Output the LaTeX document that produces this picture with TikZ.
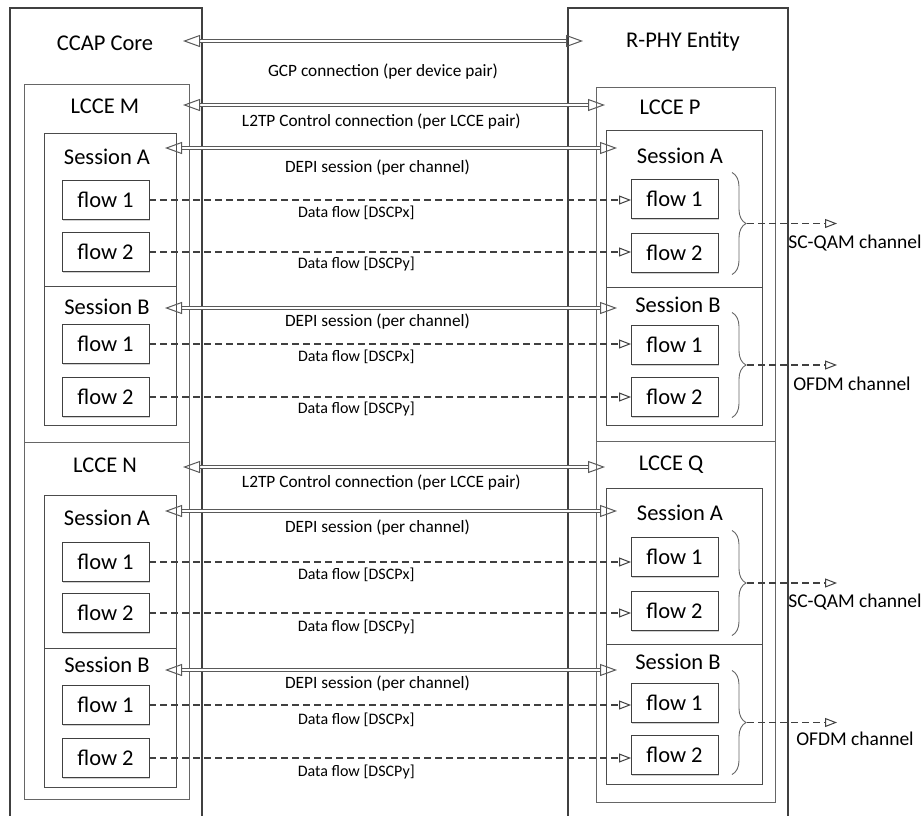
\documentclass[tikz,border=0pt]{standalone}
\usepackage{fontspec}
\setmainfont{Carlito}
\usetikzlibrary{positioning, arrows.meta, calc, shadows, decorations.pathreplacing}

\begin{document}
\begin{tikzpicture}[
    x=1pt, y=-1pt,
    every node/.style={inner sep=0pt, outer sep=0pt},
    box/.style={anchor=north west, fill=white, draw=black!70, line width=0.8pt,
        drop shadow={shadow xshift=1.2pt, shadow yshift=-1.2pt, fill=black!18, opacity=1}},
    entity/.style={box, draw=black!75, line width=1.7pt, minimum height=830pt},
    lcce/.style={box, draw=black!60, line width=0.7pt},
    sess/.style={box, minimum width=132pt},
    rsess/.style={box, minimum width=156pt},
    flowbox/.style={draw=black!75, fill=white, line width=0.8pt, minimum width=87pt, minimum height=39pt,
        font=\fontsize{22.5}{27}\selectfont,
        drop shadow={shadow xshift=1.2pt, shadow yshift=-1.2pt, fill=black!18, opacity=1}},
    ttl/.style={font=\fontsize{22.5}{27}\selectfont},
    lbl/.style={font=\fontsize{16}{19}\selectfont},
    clbl/.style={font=\fontsize{17.3}{20}\selectfont},
    chlbl/.style={font=\fontsize{19.5}{23}\selectfont},
    ctrl/.style={draw=black!65, line width=1pt, double=white, double distance=1.3pt,
        {Triangle[open, length=17pt, width=12pt, line width'=1pt]}-{Triangle[open, length=17pt, width=12pt, line width'=1pt]}},
    data/.style={draw=black!75, line width=1.3pt, dash pattern=on 7pt off 4pt,
        -{Triangle[open, length=12pt, width=9pt, line width'=1pt]}},
    brace/.style={draw=black!60, line width=0.9pt, decorate, decoration={brace, amplitude=14pt}}
]
\useasboundingbox (0,0) rectangle (922,815);

% CCAP side
\node[entity, minimum width=192pt] (core) at (10,8) {};
\node[lcce, minimum width=165pt, minimum height=358pt] (lcceM) at (24,84) {};
\node[lcce, minimum width=165pt, minimum height=357pt] (lcceN) at (24,442) {};
\node[sess, minimum height=153pt] (sMA) at (44,133) {};
\node[sess, minimum height=139pt] (sMB) at (44,286) {};
\node[sess, minimum height=153pt] (sNA) at (44,495) {};
\node[sess, minimum height=139pt] (sNB) at (44,648) {};

% R-PHY side
\node[entity, minimum width=220pt] (rphy) at (568,8) {};
\node[lcce, minimum width=179pt, minimum height=354pt] (lcceP) at (596,87) {};
\node[lcce, minimum width=179pt, minimum height=361pt] (lcceQ) at (596,441) {};
\node[rsess, minimum height=157pt] (sPA) at (606,130) {};
\node[rsess, minimum height=138pt] (sPB) at (606,287) {};
\node[rsess, minimum height=156pt] (sQA) at (606,488) {};
\node[rsess, minimum height=140pt] (sQB) at (606,644) {};

% titles
\node[ttl] (tCore) at (105,43) {CCAP Core};
\node[ttl] (tM) at (105,106) {LCCE M};
\node[ttl] (tN) at (105,465) {LCCE N};
\node[ttl] (tMA) at (107,157) {Session A};
\node[ttl] (tMB) at (107,307) {Session B};
\node[ttl] (tNA) at (107,518) {Session A};
\node[ttl] (tNB) at (107,665) {Session B};
\node[ttl] (tRphy) at (683,42) {R-PHY Entity};
\node[ttl] (tP) at (670,107) {LCCE P};
\node[ttl] (tQ) at (671,465) {LCCE Q};
\node[ttl] (tPA) at (680,156) {Session A};
\node[ttl] (tPB) at (678,305) {Session B};
\node[ttl] (tQA) at (680,513) {Session A};
\node[ttl] (tQB) at (678,662) {Session B};

% flows
\node[flowbox] (mA1) at (105.5,200) {flow 1};
\node[flowbox] (mA2) at (105.5,252) {flow 2};
\node[flowbox] (mB1) at (105.5,344) {flow 1};
\node[flowbox] (mB2) at (105.5,397) {flow 2};
\node[flowbox] (nA1) at (105.5,562) {flow 1};
\node[flowbox] (nA2) at (105.5,613) {flow 2};
\node[flowbox] (nB1) at (105.5,705) {flow 1};
\node[flowbox] (nB2) at (105.5,758) {flow 2};
\node[flowbox] (pA1) at (674.5,199) {flow 1};
\node[flowbox] (pA2) at (674.5,253) {flow 2};
\node[flowbox] (pB1) at (674.5,345) {flow 1};
\node[flowbox] (pB2) at (674.5,397) {flow 2};
\node[flowbox] (qA1) at (674.5,557) {flow 1};
\node[flowbox] (qA2) at (674.5,611) {flow 2};
\node[flowbox] (qB1) at (674.5,703) {flow 1};
\node[flowbox] (qB2) at (674.5,755) {flow 2};

% control connection ends
\coordinate (gcpL) at (183,41);  \coordinate (gcpR) at (583,41);
\coordinate (l2M) at (183,105);  \coordinate (l2P) at (605,105);
\coordinate (dMA) at (165,148);  \coordinate (dPA) at (617,148);
\coordinate (dMB) at (165,308);  \coordinate (dPB) at (617,308);
\coordinate (l2N) at (183,467);  \coordinate (l2Q) at (605,467);
\coordinate (dNA) at (165,511);  \coordinate (dQA) at (617,511);
\coordinate (dNB) at (165,670);  \coordinate (dQB) at (617,670);

\draw[ctrl] (gcpL) -- node[clbl, yshift=-31pt] (cGcp) {GCP connection (per device pair)} (gcpR);
\draw[ctrl] (l2M) -- node[clbl, pos=0.47, yshift=-17pt] (cMP) {L2TP Control connection (per LCCE pair)} (l2P);
\draw[ctrl] (dMA) -- node[clbl, pos=0.47, yshift=-20pt] (cMA) {DEPI session (per channel)} (dPA);
\draw[ctrl] (dMB) -- node[clbl, pos=0.47, yshift=-14pt] (cMB) {DEPI session (per channel)} (dPB);
\draw[ctrl] (l2N) -- node[clbl, pos=0.47, yshift=-16pt] (cNQ) {L2TP Control connection (per LCCE pair)} (l2Q);
\draw[ctrl] (dNA) -- node[clbl, pos=0.47, yshift=-17pt] (cNA) {DEPI session (per channel)} (dQA);
\draw[ctrl] (dNB) -- node[clbl, pos=0.47, yshift=-14pt] (cNB) {DEPI session (per channel)} (dQB);

% data flows
\draw[data] (mA1.east) -- node[lbl, pos=0.43, yshift=-13pt] (fMA1) {Data flow [DSCPx]} (mA1.east -| pA1.west);
\draw[data] (mA2.east) -- node[lbl, pos=0.43, yshift=-12pt] (fMA2) {Data flow [DSCPy]} (mA2.east -| pA2.west);
\draw[data] (mB1.east) -- node[lbl, pos=0.43, yshift=-13pt] (fMB1) {Data flow [DSCPx]} (mB1.east -| pB1.west);
\draw[data] (mB2.east) -- node[lbl, pos=0.43, yshift=-12pt] (fMB2) {Data flow [DSCPy]} (mB2.east -| pB2.west);
\draw[data] (nA1.east) -- node[lbl, pos=0.43, yshift=-13pt] (fNA1) {Data flow [DSCPx]} (nA1.east -| qA1.west);
\draw[data] (nA2.east) -- node[lbl, pos=0.43, yshift=-14pt] (fNA2) {Data flow [DSCPy]} (nA2.east -| qA2.west);
\draw[data] (nB1.east) -- node[lbl, pos=0.43, yshift=-15pt] (fNB1) {Data flow [DSCPx]} (nB1.east -| qB1.west);
\draw[data] (nB2.east) -- node[lbl, pos=0.43, yshift=-14pt] (fNB2) {Data flow [DSCPy]} (nB2.east -| qB2.west);

% channels
\draw[brace] ($(pA1.north east)+(14,-7)$) -- coordinate[midway, xshift=15pt] (bPA) ($(pA2.south east)+(14,2)$);
\draw[brace] ($(pB1.north east)+(14,-13)$) -- coordinate[midway, xshift=15pt] (bPB) ($(pB2.south east)+(14,1)$);
\draw[brace] ($(qA1.north east)+(14,-7)$) -- coordinate[midway, xshift=15pt] (bQA) ($(qA2.south east)+(14,5)$);
\draw[brace] ($(qB1.north east)+(14,-13)$) -- coordinate[midway, xshift=15pt] (bQB) ($(qB2.south east)+(14,0)$);
\draw[data] (bPA) -- ++(90,0) coordinate (oPA);
\draw[data] (bPB) -- ++(90,0) coordinate (oPB);
\draw[data] (bQA) -- ++(90,0) coordinate (oQA);
\draw[data] (bQB) -- ++(90,0) coordinate (oQB);
\node[chlbl] (chPA) at ($(oPA)+(18,20)$) {SC-QAM channel};
\node[chlbl] (chPB) at ($(oPB)+(15,19)$) {OFDM channel};
\node[chlbl] (chQA) at ($(oQA)+(18,19)$) {SC-QAM channel};
\node[chlbl] (chQB) at ($(oQB)+(18,16)$) {OFDM channel};
\end{tikzpicture}
\end{document}
